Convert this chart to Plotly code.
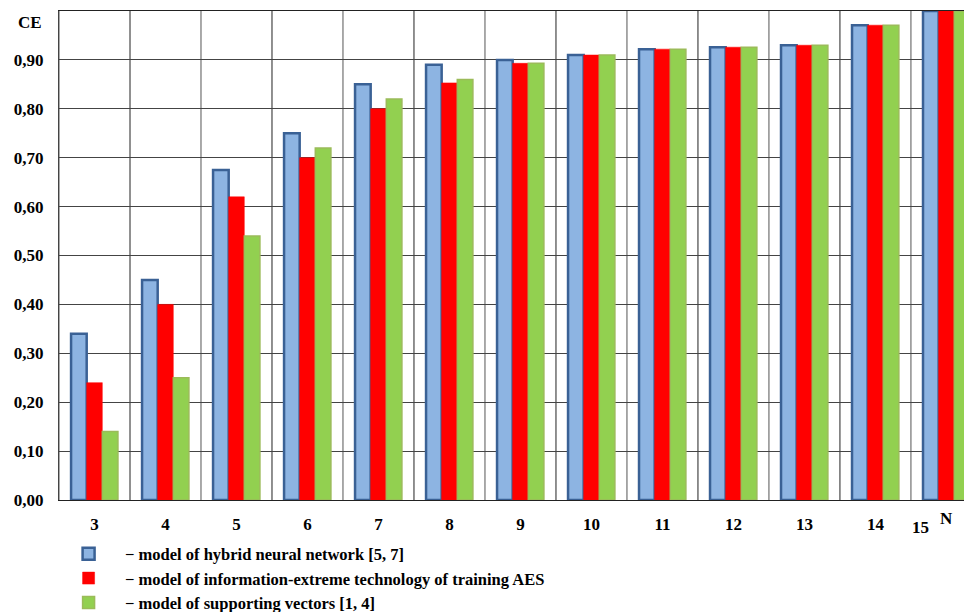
import plotly.graph_objects as go

categories = ["3", "4", "5", "6", "7", "8", "9", "10", "11", "12", "13", "14", "15"]
hybrid_nn = [0.34, 0.45, 0.675, 0.75, 0.85, 0.89, 0.90, 0.91, 0.922, 0.926, 0.930, 0.971, 1.0]
info_extreme = [0.24, 0.40, 0.62, 0.70, 0.80, 0.853, 0.893, 0.91, 0.922, 0.926, 0.930, 0.971, 1.0]
support_vec = [0.14, 0.25, 0.54, 0.72, 0.82, 0.86, 0.893, 0.91, 0.922, 0.926, 0.930, 0.971, 1.0]
series_names = [
    "model of hybrid neural network [5, 7]",
    "model of information-extreme technology of training AES",
    "model of supporting vectors [1, 4]",
]
y_ticks = [0.0, 0.1, 0.2, 0.3, 0.4, 0.5, 0.6, 0.7, 0.8, 0.9]

FONT = "Times New Roman, Liberation Serif, DejaVu Serif, serif"
pad = "\u00a0\u00a0\u00a0\u00a0"

fig = go.Figure()
fig.add_trace(go.Bar(x=list(range(len(categories))), y=hybrid_nn, name=pad + "\u2212 " + series_names[0],
                     marker=dict(color="#8db4e2", line=dict(color="#3a6195", width=2.5))))
fig.add_trace(go.Bar(x=list(range(len(categories))), y=info_extreme, name=pad + "\u2212 " + series_names[1],
                     marker=dict(color="#ff0000", line=dict(color="#ff0000", width=0.5))))
fig.add_trace(go.Bar(x=list(range(len(categories))), y=support_vec, name=pad + "\u2212 " + series_names[2],
                     marker=dict(color="#92d050", line=dict(color="#9bbb59", width=1.5))))

# vertical grid lines at category boundaries
for i in range(len(categories) + 1):
    fig.add_shape(type="line", xref="x", yref="paper", x0=i - 0.5, x1=i - 0.5, y0=0, y1=1,
                  line=dict(color="#555555" if i % 2 == 0 else "#222222", width=1), layer="below")

fig.update_layout(
    width=964, height=604,
    margin=dict(l=51, r=0, t=3, b=112, autoexpand=False),
    paper_bgcolor="white", plot_bgcolor="white",
    barmode="group", bargap=0.34, bargroupgap=0,
    separators=",.",
    font=dict(family=FONT, size=17, color="black"),
    showlegend=True,
    legend=dict(x=0.0105, y=-0.0745, xanchor="left", yanchor="top", traceorder="normal",
                font=dict(family=FONT, size=16.5, color="black", weight="bold"),
                bgcolor="rgba(0,0,0,0)", tracegroupgap=0),
    xaxis=dict(range=[-0.5, 12.36], tickvals=list(range(len(categories) - 1)),
               ticktext=categories[:-1], showgrid=False, zeroline=False, automargin=False,
               showline=True, mirror=True, linecolor="#222222", linewidth=1,
               ticks="", ticklabelstandoff=9,
               tickfont=dict(family=FONT, size=17, color="black", weight="bold")),
    yaxis=dict(range=[0, 1.0], tickvals=y_ticks, tickformat=".2f", showgrid=True, automargin=False,
               gridcolor="#444444", gridwidth=1, zeroline=False, showline=True,
               linecolor="#444444", ticks="", ticklabelstandoff=11,
               tickfont=dict(family=FONT, size=17, color="black", weight="bold")),
)

fig.add_annotation(x=11.64, y=0, xref="x", yref="y", yshift=-27, text="<b>" + categories[-1] + "</b>",
                   showarrow=False, font=dict(family=FONT, size=17, color="black"))
fig.add_annotation(x=12.0, y=0, xref="x", yref="y", yshift=-18, text="<b>N</b>",
                   showarrow=False, font=dict(family=FONT, size=17, color="black"))
fig.add_annotation(x=-0.5, y=0.977, xref="x", yref="y", xshift=-15, xanchor="right", text="<b>CE</b>",
                   showarrow=False, font=dict(family=FONT, size=17, color="black"))

fig.write_html("out.html")
